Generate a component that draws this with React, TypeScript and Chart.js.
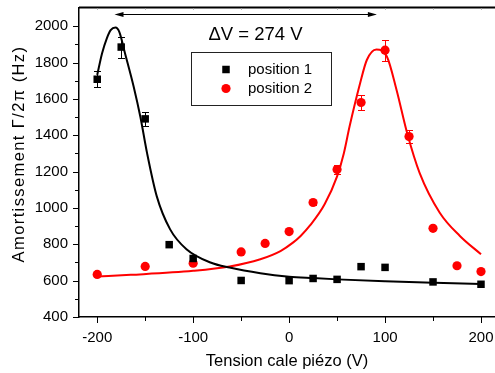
import React, { useEffect, useRef } from "react";
import { Chart, registerables } from "chart.js";

Chart.register(...registerables);

const FONT = "'Liberation Sans', Arial, Helvetica, sans-serif";

// ---- data ----
const pos1X = [-200, -175, -150, -125, -100, -50, 0, 25, 50, 75, 100, 150, 200];
const pos1Y = [1708, 1885, 1490, 798, 722, 601, 600, 612, 607, 677, 673, 593, 580];
const pos1Err = [45, 58, 38, 0, 0, 0, 0, 0, 0, 0, 0, 0, 0];

const pos2X = [-200, -150, -100, -50, -25, 0, 25, 50, 75, 100, 125, 150, 175, 200];
const pos2Y = [634, 678, 696, 758, 805, 870, 1030, 1211, 1580, 1868, 1393, 888, 682, 650];
const pos2Err = [0, 0, 0, 0, 0, 0, 15, 25, 42, 57, 35, 0, 0, 0];

const fit1X = [-200, -195, -190, -186, -181, -177, -171, -162, -155, -148, -138, -124, -107, -82, -62, -30, 0, 25, 50, 100, 150, 200];
const fit1Y = [1732, 1850, 1933, 1978, 1993, 1969, 1850, 1667, 1500, 1300, 1065, 882, 773, 700, 672, 641, 622, 614, 607, 597, 589, 581];

const fit2X = [-200, -165, -100, -62, -30, -9, 4, 12, 22, 37, 50, 57, 63, 74, 81, 91, 102, 112, 123, 136, 157, 178, 200];
const fit2Y = [623, 632, 654, 678, 718, 763, 809, 846, 905, 1020, 1174, 1300, 1448, 1686, 1814, 1872, 1832, 1649, 1412, 1193, 974, 846, 745];

const seriesLabels = ["position 1", "position 2"];
const xTickValues = [-200, -100, 0, 100, 200];
const xMinorTicks = [-150, -50, 50, 150];
const yTickValues = [400, 600, 800, 1000, 1200, 1400, 1600, 1800, 2000];
const yMinorTicks = [500, 700, 900, 1100, 1300, 1500, 1700, 1900];
const xTitle = "Tension cale piézo (V)";
const yTitle = "Amortissement Γ/2π (Hz)";
const annotationText = "ΔV = 274 V";
const arrowFromX = -182;
const arrowToX = 91.5;
const arrowAtY = 2066;
const annotationX = -35;
const annotationY = 1926;

const toPts = (xs: number[], ys: number[]) => xs.map((x, i) => ({ x, y: ys[i] }));

const customPlugin = {
  id: "customDecor",
  beforeDatasetsDraw(chart: any) {
    const { ctx, scales } = chart;
    const xs = scales.x, ys = scales.y;
    const drawErr = (X: number[], Y: number[], E: number[], color: string) => {
      ctx.save();
      ctx.strokeStyle = color;
      ctx.lineWidth = 1;
      X.forEach((xv, i) => {
        const e = E[i];
        if (!e) return;
        const px = Math.round(xs.getPixelForValue(xv)) + 0.5;
        const top = Math.round(ys.getPixelForValue(Y[i] + e)) + 0.5;
        const bot = Math.round(ys.getPixelForValue(Y[i] - e)) + 0.5;
        ctx.beginPath();
        ctx.moveTo(px, top); ctx.lineTo(px, bot);
        ctx.moveTo(px - 3.5, top); ctx.lineTo(px + 3.5, top);
        ctx.moveTo(px - 3.5, bot); ctx.lineTo(px + 3.5, bot);
        ctx.stroke();
      });
      ctx.restore();
    };
    drawErr(pos1X, pos1Y, pos1Err, "#000");
    drawErr(pos2X, pos2Y, pos2Err, "#ff0000");
  },
  afterDraw(chart: any) {
    const { ctx, scales, chartArea } = chart;
    const xs = scales.x, ys = scales.y;
    ctx.save();
    // tick marks
    ctx.strokeStyle = "#000";
    ctx.lineWidth = 1;
    ctx.beginPath();
    xTickValues.forEach((v) => {
      const p = Math.round(xs.getPixelForValue(v)) + 0.5;
      ctx.moveTo(p, chartArea.bottom); ctx.lineTo(p, chartArea.bottom + 6);
    });
    xMinorTicks.forEach((v) => {
      const p = Math.round(xs.getPixelForValue(v)) + 0.5;
      ctx.moveTo(p, chartArea.bottom); ctx.lineTo(p, chartArea.bottom + 4);
    });
    yTickValues.forEach((v) => {
      const p = Math.round(ys.getPixelForValue(v)) + 0.5;
      ctx.moveTo(chartArea.left, p); ctx.lineTo(chartArea.left - 6, p);
    });
    yMinorTicks.forEach((v) => {
      const p = Math.round(ys.getPixelForValue(v)) + 0.5;
      ctx.moveTo(chartArea.left, p); ctx.lineTo(chartArea.left - 4, p);
    });
    ctx.stroke();
    // top border
    ctx.lineWidth = 2;
    ctx.beginPath();
    ctx.moveTo(chartArea.left, chartArea.top - 0.5);
    ctx.lineTo(chartArea.right, chartArea.top - 0.5);
    ctx.stroke();
    // tiny top ticks
    ctx.strokeStyle = "#bbb";
    ctx.lineWidth = 1;
    ctx.beginPath();
    [...xTickValues, ...xMinorTicks].forEach((v) => {
      const p = Math.round(xs.getPixelForValue(v)) + 0.5;
      ctx.moveTo(p, chartArea.top + 0.5); ctx.lineTo(p, chartArea.top + 2);
    });
    ctx.stroke();

    // y axis title
    ctx.fillStyle = "#000";
    ctx.font = `16.5px ${FONT}`;
    (ctx as any).letterSpacing = "1.4px";
    ctx.save();
    ctx.translate(24, 154);
    ctx.rotate(-Math.PI / 2);
    ctx.textAlign = "center";
    ctx.textBaseline = "alphabetic";
    ctx.fillText(yTitle, 0, 0);
    ctx.restore();
    (ctx as any).letterSpacing = "0px";

    // arrow
    const ax1 = xs.getPixelForValue(arrowFromX);
    const ax2 = xs.getPixelForValue(arrowToX);
    const ay = Math.round(ys.getPixelForValue(arrowAtY)) + 0.5;
    ctx.strokeStyle = "#000";
    ctx.fillStyle = "#000";
    ctx.lineWidth = 1;
    ctx.beginPath();
    ctx.moveTo(ax1 + 6, ay); ctx.lineTo(ax2 - 6, ay);
    ctx.stroke();
    ctx.beginPath();
    ctx.moveTo(ax1, ay); ctx.lineTo(ax1 + 9, ay - 2.5); ctx.lineTo(ax1 + 9, ay + 2.5); ctx.closePath();
    ctx.fill();
    ctx.beginPath();
    ctx.moveTo(ax2, ay); ctx.lineTo(ax2 - 9, ay - 2.5); ctx.lineTo(ax2 - 9, ay + 2.5); ctx.closePath();
    ctx.fill();

    // annotation text
    ctx.font = `18.5px ${FONT}`;
    ctx.textAlign = "center";
    ctx.textBaseline = "alphabetic";
    ctx.fillText(annotationText, xs.getPixelForValue(annotationX), ys.getPixelForValue(annotationY));

    // legend
    const lx = 191, ly = 52, lw = 140, lh = 53;
    ctx.strokeStyle = "#222";
    ctx.lineWidth = 1;
    ctx.strokeRect(lx + 0.5, ly + 0.5, lw, lh);
    ctx.fillStyle = "#000";
    ctx.fillRect(226 - 3.75, 69.5 - 3.75, 7.5, 7.5);
    ctx.fillStyle = "#ff0000";
    ctx.beginPath();
    ctx.arc(226, 88.5, 4.6, 0, Math.PI * 2);
    ctx.fill();
    ctx.fillStyle = "#000";
    ctx.font = `15px ${FONT}`;
    ctx.textAlign = "left";
    ctx.textBaseline = "middle";
    ctx.fillText(seriesLabels[0], 248, 70);
    ctx.fillText(seriesLabels[1], 248, 89);
    ctx.restore();
  },
};

export default function App() {
  const ref = useRef<HTMLCanvasElement>(null);
  useEffect(() => {
    if (!ref.current) return;
    const chart = new Chart(ref.current, {
      type: "scatter",
      data: {
        datasets: [
          {
            label: seriesLabels[0],
            data: toPts(pos1X, pos1Y),
            pointStyle: "rect",
            pointRadius: 5.3,
            backgroundColor: "#000",
            borderColor: "#000",
            borderWidth: 0,
            order: 0,
          },
          {
            label: seriesLabels[1],
            data: toPts(pos2X, pos2Y),
            pointStyle: "circle",
            pointRadius: 4.6,
            backgroundColor: "#ff0000",
            borderColor: "#ff0000",
            borderWidth: 0,
            order: 0,
          },
          {
            label: "fit 1",
            data: toPts(fit1X, fit1Y),
            showLine: true,
            pointRadius: 0,
            borderColor: "#000",
            borderWidth: 2,
            cubicInterpolationMode: "monotone",
            order: 1,
          },
          {
            label: "fit 2",
            data: toPts(fit2X, fit2Y),
            showLine: true,
            pointRadius: 0,
            borderColor: "#ff0000",
            borderWidth: 2,
            cubicInterpolationMode: "monotone",
            order: 1,
          },
        ] as any,
      },
      options: {
        animation: false,
        responsive: false,
        layout: { autoPadding: false, padding: { top: 8, left: 0, right: 0, bottom: 0 } },
        plugins: { legend: { display: false }, tooltip: { enabled: false } },
        scales: {
          x: {
            type: "linear",
            min: -219,
            max: 214.6,
            afterBuildTicks: (s: any) => {
              s.ticks = xTickValues.map((v) => ({ value: v }));
            },
            afterFit: (s: any) => {
              s.height = 56;
              s.paddingLeft = 0;
              s.paddingRight = 0;
            },
            grid: { display: false, drawTicks: false },
            border: { display: true, color: "#000", width: 1.5 },
            ticks: {
              color: "#000",
              font: { family: FONT, size: 15 },
              padding: 12,
              maxRotation: 0,
              autoSkip: false,
              callback: (v: any) => String(v),
            },
            title: {
              display: true,
              text: xTitle,
              color: "#000",
              font: { family: FONT, size: 16.5 },
              padding: { top: 0, bottom: 2 },
            },
          },
          y: {
            type: "linear",
            min: 400,
            max: 2100,
            afterBuildTicks: (s: any) => {
              s.ticks = yTickValues.map((v) => ({ value: v }));
            },
            afterFit: (s: any) => {
              s.width = 79;
              s.paddingTop = 0;
              s.paddingBottom = 0;
            },
            grid: { display: false, drawTicks: false },
            border: { display: true, color: "#000", width: 1.5 },
            ticks: {
              color: "#000",
              font: { family: FONT, size: 15 },
              padding: 11,
              autoSkip: false,
              callback: (v: any) => String(v),
            },
            title: { display: false },
          },
        },
      } as any,
      plugins: [customPlugin],
    });
    return () => chart.destroy();
  }, []);
  return (
    <canvas
      ref={ref}
      width={495}
      height={373}
      style={{ position: "fixed", left: 0, top: 0, width: 495, height: 373, display: "block", background: "#fff" }}
    />
  );
}
